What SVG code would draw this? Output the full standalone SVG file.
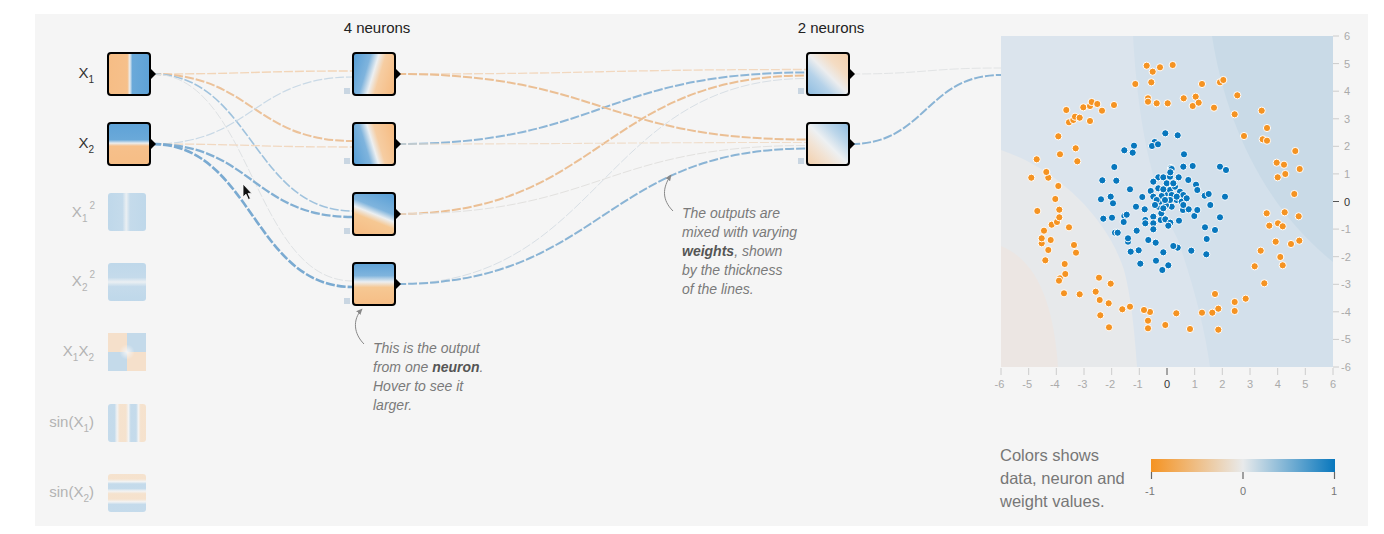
<svg xmlns="http://www.w3.org/2000/svg" width="1384" height="534" viewBox="0 0 1384 534">
  <style>
    .lbl { font-family: "Liberation Sans", Arial, sans-serif; font-size: 15px; fill: #333; }
    .faded { fill: #b3b3b3; }
    .sub { font-size: 10px; }
    .head { font-family: "Liberation Sans", Arial, sans-serif; font-size: 15px; fill: #222; text-anchor: middle; }
    .note { font-family: "Liberation Sans", Arial, sans-serif; font-size: 14px; font-style: italic; fill: #7a7a7a; }
    .legend { font-family: "Liberation Sans", Arial, sans-serif; font-size: 16.5px; fill: #777; }
    .tick { font-family: "Liberation Sans", Arial, sans-serif; font-size: 11px; fill: #aaa; }
    .tickc { text-anchor: middle; }
    .frame { stroke: #000; stroke-width: 2; }
    .bias { fill: #c9d6e2; }
    .tip { fill: #000; }
    .link { fill: none; stroke-dasharray: 9 2; }
    .arrow { fill: none; stroke: #888; stroke-width: 1; }
    .axis line { stroke: #ccc; stroke-width: 1; }
    .pt { stroke: #fff; stroke-width: 1; }
    .or circle { fill: #f59322; }
    .bl circle { fill: #0877bd; }
  </style>
  <defs>
    <linearGradient id="gX1" x1="0" y1="0" x2="1" y2="0">
      <stop offset="0" stop-color="#f6bd85"/>
      <stop offset="0.46" stop-color="#f6c08b"/>
      <stop offset="0.52" stop-color="#e9edf0"/>
      <stop offset="0.58" stop-color="#6aa9d9"/>
      <stop offset="1" stop-color="#5ea2d7"/>
    </linearGradient>
    <linearGradient id="gX2" x1="0" y1="0" x2="0" y2="1">
      <stop offset="0" stop-color="#5ea2d7"/>
      <stop offset="0.4" stop-color="#6aa9d9"/>
      <stop offset="0.48" stop-color="#e9edf0"/>
      <stop offset="0.55" stop-color="#f6c08b"/>
      <stop offset="1" stop-color="#f6bd85"/>
    </linearGradient>
    <linearGradient id="gX1sq" x1="0" y1="0" x2="1" y2="0">
      <stop offset="0" stop-color="#6eacd9"/>
      <stop offset="0.38" stop-color="#7cb3dc"/>
      <stop offset="0.48" stop-color="#dbe7f0"/>
      <stop offset="0.58" stop-color="#7cb3dc"/>
      <stop offset="1" stop-color="#6eacd9"/>
    </linearGradient>
    <linearGradient id="gX2sq" x1="0" y1="0" x2="0" y2="1">
      <stop offset="0" stop-color="#6eacd9"/>
      <stop offset="0.38" stop-color="#7cb3dc"/>
      <stop offset="0.5" stop-color="#dbe7f0"/>
      <stop offset="0.62" stop-color="#7cb3dc"/>
      <stop offset="1" stop-color="#6eacd9"/>
    </linearGradient>
    <linearGradient id="gSin1" x1="0" y1="0" x2="1" y2="0">
      <stop offset="0" stop-color="#7cb3dc"/>
      <stop offset="0.17" stop-color="#7cb3dc"/>
      <stop offset="0.24" stop-color="#eef0f1"/>
      <stop offset="0.31" stop-color="#f6c693"/>
      <stop offset="0.47" stop-color="#f6c693"/>
      <stop offset="0.54" stop-color="#eef0f1"/>
      <stop offset="0.6" stop-color="#7cb3dc"/>
      <stop offset="0.74" stop-color="#7cb3dc"/>
      <stop offset="0.8" stop-color="#eef0f1"/>
      <stop offset="0.86" stop-color="#f6c693"/>
      <stop offset="1" stop-color="#f6c693"/>
    </linearGradient>
    <linearGradient id="gSin2" x1="0" y1="0" x2="0" y2="1">
      <stop offset="0" stop-color="#f6c693"/>
      <stop offset="0.13" stop-color="#f6c693"/>
      <stop offset="0.2" stop-color="#eef0f1"/>
      <stop offset="0.26" stop-color="#7cb3dc"/>
      <stop offset="0.38" stop-color="#7cb3dc"/>
      <stop offset="0.45" stop-color="#eef0f1"/>
      <stop offset="0.52" stop-color="#f6c693"/>
      <stop offset="0.66" stop-color="#f6c693"/>
      <stop offset="0.73" stop-color="#eef0f1"/>
      <stop offset="0.8" stop-color="#7cb3dc"/>
      <stop offset="1" stop-color="#7cb3dc"/>
    </linearGradient>
    <radialGradient id="gX1X2c" cx="0.5" cy="0.5" r="0.2">
      <stop offset="0" stop-color="#f2f3f3" stop-opacity="1"/>
      <stop offset="1" stop-color="#f2f3f3" stop-opacity="0"/>
    </radialGradient>
    <linearGradient id="gN1" x1="0" y1="0.35" x2="1" y2="0.65">
      <stop offset="0" stop-color="#5ea2d7"/>
      <stop offset="0.3" stop-color="#7fb4dd"/>
      <stop offset="0.48" stop-color="#eceff1"/>
      <stop offset="0.64" stop-color="#f6cda2"/>
      <stop offset="1" stop-color="#f6bd85"/>
    </linearGradient>
    <linearGradient id="gN2" x1="0" y1="0.65" x2="1" y2="0.35">
      <stop offset="0" stop-color="#5ea2d7"/>
      <stop offset="0.3" stop-color="#7fb4dd"/>
      <stop offset="0.47" stop-color="#eceff1"/>
      <stop offset="0.62" stop-color="#f6cda2"/>
      <stop offset="1" stop-color="#f6bd85"/>
    </linearGradient>
    <linearGradient id="gN3" x1="0.3" y1="1" x2="0.7" y2="0">
      <stop offset="0" stop-color="#f6bd85"/>
      <stop offset="0.35" stop-color="#f6c893"/>
      <stop offset="0.5" stop-color="#eceff1"/>
      <stop offset="0.65" stop-color="#7fb4dd"/>
      <stop offset="1" stop-color="#5ea2d7"/>
    </linearGradient>
    <linearGradient id="gN4" x1="0" y1="0" x2="0" y2="1">
      <stop offset="0" stop-color="#5ea2d7"/>
      <stop offset="0.3" stop-color="#7fb4dd"/>
      <stop offset="0.45" stop-color="#eceff1"/>
      <stop offset="0.58" stop-color="#f6c893"/>
      <stop offset="1" stop-color="#f6bd85"/>
    </linearGradient>
    <linearGradient id="gL1" x1="0" y1="1" x2="1" y2="0">
      <stop offset="0" stop-color="#8dbce0"/>
      <stop offset="0.3" stop-color="#b5d2e9"/>
      <stop offset="0.5" stop-color="#ecedee"/>
      <stop offset="0.7" stop-color="#f4dcc3"/>
      <stop offset="1" stop-color="#f3cfab"/>
    </linearGradient>
    <linearGradient id="gL2" x1="0" y1="1" x2="1" y2="0">
      <stop offset="0" stop-color="#f3cfab"/>
      <stop offset="0.3" stop-color="#f2e2d2"/>
      <stop offset="0.5" stop-color="#edf0f2"/>
      <stop offset="0.72" stop-color="#bcd6ea"/>
      <stop offset="1" stop-color="#8dbce0"/>
    </linearGradient>
    <linearGradient id="gScale" x1="0" y1="0" x2="1" y2="0">
      <stop offset="0" stop-color="#f59322"/>
      <stop offset="0.5" stop-color="#e8eaeb"/>
      <stop offset="1" stop-color="#0877bd"/>
    </linearGradient>
    <clipPath id="plotClip">
      <rect x="1001" y="36" width="332" height="331"/>
    </clipPath>
    <marker id="head" viewBox="0 0 10 10" refX="8" refY="5" markerWidth="7" markerHeight="7" orient="auto">
      <path d="M0,1 L9,5 L0,9 Z" fill="#888"/>
    </marker>
  </defs>

  <!-- page and panel -->
  <rect x="0" y="0" width="1384" height="534" fill="#ffffff"/>
  <rect x="35" y="14" width="1333" height="512" fill="#f5f5f5"/>

  <!-- layer headings -->
  <text class="head" x="377" y="33">4 neurons</text>
  <text class="head" x="831" y="33">2 neurons</text>

  <!-- connectors -->
  <g id="links">
    <!-- inputs to hidden layer 1 -->
    <path class="link" d="M152,74 C252.5,74 252.5,71 353,71" stroke="#f2d5b8" stroke-width="1.4"/>
    <path class="link" d="M152,74 C252.5,74 252.5,141 353,141" stroke="#ecc29a" stroke-width="2"/>
    <path class="link" d="M152,74 C252.5,74 252.5,211 353,211" stroke="#9fc2dd" stroke-width="1.6"/>
    <path class="link" d="M152,74 C252.5,74 252.5,281 353,281" stroke="#dfe2e4" stroke-width="1"/>
    <path class="link" d="M152,144 C252.5,144 252.5,77 353,77" stroke="#c9d9e6" stroke-width="1.2"/>
    <path class="link" d="M152,144 C252.5,144 252.5,147 353,147" stroke="#f1d8c0" stroke-width="1.3"/>
    <path class="link" d="M152,144 C252.5,144 252.5,217 353,217" stroke="#82afd3" stroke-width="2.3"/>
    <path class="link" d="M152,144 C252.5,144 252.5,287 353,287" stroke="#7aaad1" stroke-width="2.6"/>
    <!-- hidden layer 1 to hidden layer 2 -->
    <path class="link" d="M397,74 C602,74 602,69.5 807,69.5" stroke="#f2d8bf" stroke-width="1.3"/>
    <path class="link" d="M397,144 C602,144 602,72.5 807,72.5" stroke="#8db6d7" stroke-width="2"/>
    <path class="link" d="M397,214 C602,214 602,75.5 807,75.5" stroke="#ebbf94" stroke-width="2"/>
    <path class="link" d="M397,284 C602,284 602,78.5 807,78.5" stroke="#d8dfe5" stroke-width="1"/>
    <path class="link" d="M397,74 C602,74 602,139.5 807,139.5" stroke="#ebbf94" stroke-width="2"/>
    <path class="link" d="M397,144 C602,144 602,142.5 807,142.5" stroke="#f0ddca" stroke-width="1.1"/>
    <path class="link" d="M397,214 C602,214 602,145.5 807,145.5" stroke="#e2e1df" stroke-width="1"/>
    <path class="link" d="M397,284 C602,284 602,148.5 807,148.5" stroke="#8ab4d5" stroke-width="2"/>
    <!-- hidden layer 2 to output -->
    <path class="link" d="M851,74 C926,74 926,68 1001,68" stroke="#e2e4e5" stroke-width="1"/>
    <path class="link" d="M851,144 C926,144 926,75 1001,75" stroke="#8ab4d5" stroke-width="2"/>
  </g>

  <!-- input features -->
  <g id="in-x1">
    <text class="lbl" x="94" y="78" text-anchor="end">X<tspan class="sub" dy="5">1</tspan></text>
    <rect class="frame" x="108" y="53" width="42" height="42" rx="3" fill="url(#gX1)"/>
    <polygon class="tip" points="150,68 156,74 150,80"/>
  </g>
  <g id="in-x2">
    <text class="lbl" x="94" y="148" text-anchor="end">X<tspan class="sub" dy="5">2</tspan></text>
    <rect class="frame" x="108" y="123" width="42" height="42" rx="3" fill="url(#gX2)"/>
    <polygon class="tip" points="150,138 156,144 150,150"/>
  </g>
  <g id="in-x1sq">
    <text class="lbl faded" x="95" y="217" text-anchor="end">X<tspan class="sub" dy="5">1</tspan><tspan class="sub" dx="2" dy="-13">2</tspan></text>
    <rect x="108" y="193" width="38" height="38" rx="3" fill="url(#gX1sq)" opacity="0.4"/>
  </g>
  <g id="in-x2sq">
    <text class="lbl faded" x="95" y="286" text-anchor="end">X<tspan class="sub" dy="5">2</tspan><tspan class="sub" dx="2" dy="-13">2</tspan></text>
    <rect x="108" y="263" width="38" height="38" rx="3" fill="url(#gX2sq)" opacity="0.4"/>
  </g>
  <g id="in-x1x2">
    <text class="lbl faded" x="94" y="356" text-anchor="end">X<tspan class="sub" dy="5">1</tspan><tspan dy="-5">X</tspan><tspan class="sub" dy="5">2</tspan></text>
    <g opacity="0.4">
      <rect x="108" y="333" width="19" height="19" fill="#f6c38f"/>
      <rect x="127" y="333" width="19" height="19" fill="#7cb3dc"/>
      <rect x="108" y="352" width="19" height="19" fill="#7cb3dc"/>
      <rect x="127" y="352" width="19" height="19" fill="#f6c38f"/>
      <rect x="108" y="333" width="38" height="38" fill="url(#gX1X2c)"/>
    </g>
  </g>
  <g id="in-sinx1">
    <text class="lbl faded" x="94" y="427" text-anchor="end">sin(X<tspan class="sub" dy="5">1</tspan><tspan dy="-5">)</tspan></text>
    <rect x="108" y="404" width="38" height="38" rx="3" fill="url(#gSin1)" opacity="0.4"/>
  </g>
  <g id="in-sinx2">
    <text class="lbl faded" x="94" y="497" text-anchor="end">sin(X<tspan class="sub" dy="5">2</tspan><tspan dy="-5">)</tspan></text>
    <rect x="108" y="474" width="38" height="38" rx="3" fill="url(#gSin2)" opacity="0.4"/>
  </g>

  <!-- hidden layer 1 -->
  <g id="h1-n1">
    <rect class="bias" x="344" y="88" width="6" height="6"/>
    <rect class="frame" x="353" y="53" width="42" height="42" rx="3" fill="url(#gN1)"/>
    <polygon class="tip" points="395,68 401,74 395,80"/>
  </g>
  <g id="h1-n2">
    <rect class="bias" x="344" y="158" width="6" height="6"/>
    <rect class="frame" x="353" y="123" width="42" height="42" rx="3" fill="url(#gN2)"/>
    <polygon class="tip" points="395,138 401,144 395,150"/>
  </g>
  <g id="h1-n3">
    <rect class="bias" x="344" y="228" width="6" height="6"/>
    <rect class="frame" x="353" y="193" width="42" height="42" rx="3" fill="url(#gN3)"/>
    <polygon class="tip" points="395,208 401,214 395,220"/>
  </g>
  <g id="h1-n4">
    <rect class="bias" x="344" y="298" width="6" height="6"/>
    <rect class="frame" x="353" y="263" width="42" height="42" rx="3" fill="url(#gN4)"/>
    <polygon class="tip" points="395,278 401,284 395,290"/>
  </g>

  <!-- hidden layer 2 -->
  <g id="h2-n1">
    <rect class="bias" x="798" y="88" width="6" height="6"/>
    <rect class="frame" x="807" y="53" width="42" height="42" rx="3" fill="url(#gL1)"/>
    <polygon class="tip" points="849,68 855,74 849,80"/>
  </g>
  <g id="h2-n2">
    <rect class="bias" x="798" y="158" width="6" height="6"/>
    <rect class="frame" x="807" y="123" width="42" height="42" rx="3" fill="url(#gL2)"/>
    <polygon class="tip" points="849,138 855,144 849,150"/>
  </g>

  <!-- pointer -->
  <g id="pointer">
    <path d="M243,184 L243,197 L246,194.2 L248.4,199.5 L250.4,198.6 L248,193.4 L251.8,193.4 Z" fill="#111" stroke="#fff" stroke-width="0.8"/>
  </g>

  <!-- annotations -->
  <g id="note-neuron">
    <path class="arrow" d="M364,344 C354,334 352,320 362,309" marker-end="url(#head)"/>
    <text class="note" x="373" y="353">This is the output</text>
    <text class="note" x="373" y="372">from one <tspan font-weight="bold" fill="#555">neuron</tspan>.</text>
    <text class="note" x="373" y="391">Hover to see it</text>
    <text class="note" x="373" y="410">larger.</text>
  </g>
  <g id="note-weights">
    <path class="arrow" d="M673,211 C662,200 662,188 671,175" marker-end="url(#head)"/>
    <text class="note" x="682" y="218">The outputs are</text>
    <text class="note" x="682" y="237">mixed with varying</text>
    <text class="note" x="682" y="256"><tspan font-weight="bold" fill="#555">weights</tspan>, shown</text>
    <text class="note" x="682" y="275">by the thickness</text>
    <text class="note" x="682" y="294">of the lines.</text>
  </g>

  <!-- output heatmap -->
  <g id="output">
    <g clip-path="url(#plotClip)">
      <rect x="1001" y="36" width="332" height="331" fill="#d3e0eb"/>
      <path d="M1212,36 C1225,120 1262,205 1333,262 L1333,36 Z" fill="#c9dae7"/>
      <path d="M1001,36 L1133,36 C1138,120 1150,185 1178,240 C1195,290 1205,330 1210,367 L1001,367 Z" fill="#dbe4ed"/>
      <path d="M1001,150 C1060,170 1108,220 1124,270 C1132,300 1135,340 1137,367 L1001,367 Z" fill="#e7e9eb"/>
      <path d="M1001,246 C1040,262 1054,310 1058,367 L1001,367 Z" fill="#ece6e3"/>
    </g>
    <g class="axis">
      <line x1="1333" y1="36" x2="1339" y2="36"/>
      <line x1="1333" y1="63.6" x2="1339" y2="63.6"/>
      <line x1="1333" y1="91.2" x2="1339" y2="91.2"/>
      <line x1="1333" y1="118.8" x2="1339" y2="118.8"/>
      <line x1="1333" y1="146.3" x2="1339" y2="146.3"/>
      <line x1="1333" y1="173.9" x2="1339" y2="173.9"/>
      <line x1="1333" y1="201.5" x2="1339" y2="201.5" style="stroke:#555"/>
      <line x1="1333" y1="229.1" x2="1339" y2="229.1"/>
      <line x1="1333" y1="256.7" x2="1339" y2="256.7"/>
      <line x1="1333" y1="284.3" x2="1339" y2="284.3"/>
      <line x1="1333" y1="311.8" x2="1339" y2="311.8"/>
      <line x1="1333" y1="339.4" x2="1339" y2="339.4"/>
      <line x1="1333" y1="367" x2="1339" y2="367"/>
      <line x1="1001" y1="368" x2="1001" y2="375"/>
      <line x1="1028.7" y1="368" x2="1028.7" y2="375"/>
      <line x1="1056.3" y1="368" x2="1056.3" y2="375"/>
      <line x1="1084" y1="368" x2="1084" y2="375"/>
      <line x1="1111.7" y1="368" x2="1111.7" y2="375"/>
      <line x1="1139.3" y1="368" x2="1139.3" y2="375"/>
      <line x1="1167" y1="368" x2="1167" y2="375" style="stroke:#555"/>
      <line x1="1194.7" y1="368" x2="1194.7" y2="375"/>
      <line x1="1222.3" y1="368" x2="1222.3" y2="375"/>
      <line x1="1250" y1="368" x2="1250" y2="375"/>
      <line x1="1277.7" y1="368" x2="1277.7" y2="375"/>
      <line x1="1305.3" y1="368" x2="1305.3" y2="375"/>
      <line x1="1333" y1="368" x2="1333" y2="375"/>
    </g>
    <g class="tick">
      <text x="1344" y="40">6</text>
      <text x="1344" y="67.6">5</text>
      <text x="1344" y="95.2">4</text>
      <text x="1344" y="122.8">3</text>
      <text x="1344" y="150.3">2</text>
      <text x="1344" y="177.9">1</text>
      <text x="1344" y="205.5" style="fill:#333">0</text>
      <text x="1341" y="233.1">-1</text>
      <text x="1341" y="260.7">-2</text>
      <text x="1341" y="288.3">-3</text>
      <text x="1341" y="315.8">-4</text>
      <text x="1341" y="343.4">-5</text>
      <text x="1341" y="371">-6</text>
    </g>
    <g class="tick tickc">
      <text x="999.5" y="388">-6</text>
      <text x="1027.2" y="388">-5</text>
      <text x="1054.8" y="388">-4</text>
      <text x="1082.5" y="388">-3</text>
      <text x="1110.2" y="388">-2</text>
      <text x="1137.8" y="388">-1</text>
      <text x="1167" y="388" style="fill:#333">0</text>
      <text x="1194.7" y="388">1</text>
      <text x="1222.3" y="388">2</text>
      <text x="1250" y="388">3</text>
      <text x="1277.7" y="388">4</text>
      <text x="1305.3" y="388">5</text>
      <text x="1333" y="388">6</text>
    </g>
    <!-- class -1 samples -->
    <g class="or">
      <circle class="pt" r="3.6" cx="1146.7" cy="65.7"/><circle class="pt" r="3.6" cx="1152.7" cy="71.7"/>
      <circle class="pt" r="3.6" cx="1160" cy="67.3"/><circle class="pt" r="3.6" cx="1172.7" cy="65"/>
      <circle class="pt" r="3.6" cx="1135.3" cy="84"/><circle class="pt" r="3.6" cx="1151.3" cy="82.3"/>
      <circle class="pt" r="3.6" cx="1148" cy="98.3"/><circle class="pt" r="3.6" cx="1148" cy="101.7"/>
      <circle class="pt" r="3.6" cx="1156.7" cy="103.3"/><circle class="pt" r="3.6" cx="1167.7" cy="103.3"/>
      <circle class="pt" r="3.6" cx="1183.7" cy="98.3"/><circle class="pt" r="3.6" cx="1195.7" cy="96.7"/>
      <circle class="pt" r="3.6" cx="1192.7" cy="106"/><circle class="pt" r="3.6" cx="1198.7" cy="102.7"/>
      <circle class="pt" r="3.6" cx="1202" cy="84"/><circle class="pt" r="3.6" cx="1220" cy="82.3"/>
      <circle class="pt" r="3.6" cx="1223.3" cy="80"/><circle class="pt" r="3.6" cx="1237.3" cy="95.3"/>
      <circle class="pt" r="3.6" cx="1214" cy="107.7"/><circle class="pt" r="3.6" cx="1234.7" cy="114.3"/>
      <circle class="pt" r="3.6" cx="1244" cy="136"/><circle class="pt" r="3.6" cx="1261.7" cy="110.7"/>
      <circle class="pt" r="3.6" cx="1267" cy="128"/><circle class="pt" r="3.6" cx="1262.7" cy="139.3"/>
      <circle class="pt" r="3.6" cx="1267" cy="140.7"/><circle class="pt" r="3.6" cx="1295.3" cy="151"/>
      <circle class="pt" r="3.6" cx="1276.7" cy="162.7"/><circle class="pt" r="3.6" cx="1284" cy="164.7"/>
      <circle class="pt" r="3.6" cx="1299.7" cy="169"/><circle class="pt" r="3.6" cx="1277.7" cy="177.3"/>
      <circle class="pt" r="3.6" cx="1285.3" cy="174"/><circle class="pt" r="3.6" cx="1294.3" cy="194"/>
      <circle class="pt" r="3.6" cx="1266.7" cy="213.3"/><circle class="pt" r="3.6" cx="1284.7" cy="212.3"/>
      <circle class="pt" r="3.6" cx="1298.7" cy="216.3"/><circle class="pt" r="3.6" cx="1269.3" cy="225.7"/>
      <circle class="pt" r="3.6" cx="1278" cy="223.3"/><circle class="pt" r="3.6" cx="1282.7" cy="226.3"/>
      <circle class="pt" r="3.6" cx="1275.7" cy="241.7"/><circle class="pt" r="3.6" cx="1291" cy="244"/>
      <circle class="pt" r="3.6" cx="1299.3" cy="240.7"/><circle class="pt" r="3.6" cx="1260.7" cy="250.7"/>
      <circle class="pt" r="3.6" cx="1280.3" cy="257"/><circle class="pt" r="3.6" cx="1282.7" cy="265.3"/>
      <circle class="pt" r="3.6" cx="1254.7" cy="266.3"/><circle class="pt" r="3.6" cx="1264.3" cy="283.3"/>
      <circle class="pt" r="3.6" cx="1245.7" cy="298.7"/><circle class="pt" r="3.6" cx="1234.7" cy="302"/>
      <circle class="pt" r="3.6" cx="1234.7" cy="311"/><circle class="pt" r="3.6" cx="1218.3" cy="308.7"/>
      <circle class="pt" r="3.6" cx="1212.3" cy="312.7"/><circle class="pt" r="3.6" cx="1215" cy="294"/>
      <circle class="pt" r="3.6" cx="1202" cy="312.7"/><circle class="pt" r="3.6" cx="1190" cy="329"/>
      <circle class="pt" r="3.6" cx="1218.3" cy="329.7"/><circle class="pt" r="3.6" cx="1176.3" cy="313.3"/>
      <circle class="pt" r="3.6" cx="1165.3" cy="325"/><circle class="pt" r="3.6" cx="1150" cy="312"/>
      <circle class="pt" r="3.6" cx="1144" cy="310"/><circle class="pt" r="3.6" cx="1148" cy="320.7"/>
      <circle class="pt" r="3.6" cx="1148" cy="328.3"/><circle class="pt" r="3.6" cx="1130" cy="306.7"/>
      <circle class="pt" r="3.6" cx="1122.3" cy="309.3"/><circle class="pt" r="3.6" cx="1109" cy="327.3"/>
      <circle class="pt" r="3.6" cx="1108.7" cy="303.3"/><circle class="pt" r="3.6" cx="1100.3" cy="315.3"/>
      <circle class="pt" r="3.6" cx="1099.7" cy="300"/><circle class="pt" r="3.6" cx="1095.7" cy="291.7"/>
      <circle class="pt" r="3.6" cx="1099" cy="277.7"/><circle class="pt" r="3.6" cx="1110.7" cy="283.7"/>
      <circle class="pt" r="3.6" cx="1079.7" cy="294.3"/><circle class="pt" r="3.6" cx="1064" cy="293.3"/>
      <circle class="pt" r="3.6" cx="1060" cy="278.3"/><circle class="pt" r="3.6" cx="1059" cy="280.7"/>
      <circle class="pt" r="3.6" cx="1065.3" cy="274"/><circle class="pt" r="3.6" cx="1064.7" cy="264"/>
      <circle class="pt" r="3.6" cx="1076" cy="252.7"/><circle class="pt" r="3.6" cx="1074" cy="245"/>
      <circle class="pt" r="3.6" cx="1045.3" cy="260.3"/><circle class="pt" r="3.6" cx="1048.3" cy="250"/>
      <circle class="pt" r="3.6" cx="1050.7" cy="240"/><circle class="pt" r="3.6" cx="1041.7" cy="243.3"/>
      <circle class="pt" r="3.6" cx="1041.7" cy="238.3"/><circle class="pt" r="3.6" cx="1044" cy="230.7"/>
      <circle class="pt" r="3.6" cx="1051.7" cy="224.7"/><circle class="pt" r="3.6" cx="1057" cy="222"/>
      <circle class="pt" r="3.6" cx="1059.3" cy="217.3"/><circle class="pt" r="3.6" cx="1069" cy="227.3"/>
      <circle class="pt" r="3.6" cx="1059.3" cy="209.7"/><circle class="pt" r="3.6" cx="1037.3" cy="211"/>
      <circle class="pt" r="3.6" cx="1055.3" cy="199"/><circle class="pt" r="3.6" cx="1058.3" cy="186"/>
      <circle class="pt" r="3.6" cx="1048.3" cy="177.7"/><circle class="pt" r="3.6" cx="1046.3" cy="172"/>
      <circle class="pt" r="3.6" cx="1031.3" cy="177.7"/><circle class="pt" r="3.6" cx="1036.7" cy="159.3"/>
      <circle class="pt" r="3.6" cx="1060" cy="154.3"/><circle class="pt" r="3.6" cx="1077.3" cy="161.3"/>
      <circle class="pt" r="3.6" cx="1075.7" cy="148.3"/><circle class="pt" r="3.6" cx="1058.3" cy="136.3"/>
      <circle class="pt" r="3.6" cx="1066.3" cy="110"/><circle class="pt" r="3.6" cx="1069" cy="122.3"/>
      <circle class="pt" r="3.6" cx="1073.3" cy="120"/><circle class="pt" r="3.6" cx="1075" cy="116.7"/>
      <circle class="pt" r="3.6" cx="1079.7" cy="117.7"/><circle class="pt" r="3.6" cx="1083.3" cy="107.3"/>
      <circle class="pt" r="3.6" cx="1090" cy="106"/><circle class="pt" r="3.6" cx="1091.7" cy="102"/>
      <circle class="pt" r="3.6" cx="1097.3" cy="104"/><circle class="pt" r="3.6" cx="1102" cy="110.7"/>
      <circle class="pt" r="3.6" cx="1090" cy="121"/><circle class="pt" r="3.6" cx="1114" cy="105"/>
    </g>
    <!-- class +1 samples -->
    <g class="bl">
      <circle class="pt" r="3.6" cx="1165.3" cy="133.3"/><circle class="pt" r="3.6" cx="1177.7" cy="135.3"/>
      <circle class="pt" r="3.6" cx="1154.7" cy="142"/><circle class="pt" r="3.6" cx="1152" cy="146"/>
      <circle class="pt" r="3.6" cx="1158" cy="144.3"/><circle class="pt" r="3.6" cx="1124.3" cy="150.3"/>
      <circle class="pt" r="3.6" cx="1134" cy="145.7"/><circle class="pt" r="3.6" cx="1132.7" cy="152.7"/>
      <circle class="pt" r="3.6" cx="1184" cy="154.3"/><circle class="pt" r="3.6" cx="1114.3" cy="167"/>
      <circle class="pt" r="3.6" cx="1171" cy="168"/><circle class="pt" r="3.6" cx="1183.3" cy="166.7"/>
      <circle class="pt" r="3.6" cx="1192.7" cy="166"/><circle class="pt" r="3.6" cx="1220" cy="166.7"/>
      <circle class="pt" r="3.6" cx="1226" cy="170"/><circle class="pt" r="3.6" cx="1102.3" cy="180.3"/>
      <circle class="pt" r="3.6" cx="1116.3" cy="180.7"/><circle class="pt" r="3.6" cx="1158.3" cy="177.3"/>
      <circle class="pt" r="3.6" cx="1153.3" cy="181.7"/><circle class="pt" r="3.6" cx="1163.3" cy="177.3"/>
      <circle class="pt" r="3.6" cx="1170" cy="176.7"/><circle class="pt" r="3.6" cx="1178.7" cy="177.3"/>
      <circle class="pt" r="3.6" cx="1188.3" cy="180"/><circle class="pt" r="3.6" cx="1196" cy="184.7"/>
      <circle class="pt" r="3.6" cx="1197.3" cy="190"/><circle class="pt" r="3.6" cx="1171.7" cy="169"/>
      <circle class="pt" r="3.6" cx="1170.3" cy="172.3"/><circle class="pt" r="3.6" cx="1130" cy="189.3"/>
      <circle class="pt" r="3.6" cx="1150.7" cy="191"/><circle class="pt" r="3.6" cx="1142.3" cy="197"/>
      <circle class="pt" r="3.6" cx="1101" cy="199.3"/><circle class="pt" r="3.6" cx="1110.7" cy="196.7"/>
      <circle class="pt" r="3.6" cx="1113" cy="203.3"/><circle class="pt" r="3.6" cx="1103.3" cy="218.7"/>
      <circle class="pt" r="3.6" cx="1112" cy="217.7"/><circle class="pt" r="3.6" cx="1124.3" cy="216"/>
      <circle class="pt" r="3.6" cx="1126.7" cy="214.7"/><circle class="pt" r="3.6" cx="1123.7" cy="222"/>
      <circle class="pt" r="3.6" cx="1136" cy="206.7"/><circle class="pt" r="3.6" cx="1144.7" cy="209.3"/>
      <circle class="pt" r="3.6" cx="1145.3" cy="220"/><circle class="pt" r="3.6" cx="1145.3" cy="223.3"/>
      <circle class="pt" r="3.6" cx="1153.3" cy="216.7"/><circle class="pt" r="3.6" cx="1153.3" cy="223.3"/>
      <circle class="pt" r="3.6" cx="1160.7" cy="220"/><circle class="pt" r="3.6" cx="1158.3" cy="206.7"/>
      <circle class="pt" r="3.6" cx="1161.3" cy="213.3"/><circle class="pt" r="3.6" cx="1165.3" cy="219.3"/>
      <circle class="pt" r="3.6" cx="1170.3" cy="222.7"/><circle class="pt" r="3.6" cx="1168.3" cy="225.7"/>
      <circle class="pt" r="3.6" cx="1179" cy="220.7"/><circle class="pt" r="3.6" cx="1183" cy="210"/>
      <circle class="pt" r="3.6" cx="1188.7" cy="209.3"/><circle class="pt" r="3.6" cx="1194.3" cy="216"/>
      <circle class="pt" r="3.6" cx="1197.3" cy="210"/><circle class="pt" r="3.6" cx="1204.7" cy="195.7"/>
      <circle class="pt" r="3.6" cx="1208.7" cy="194"/><circle class="pt" r="3.6" cx="1210.3" cy="205"/>
      <circle class="pt" r="3.6" cx="1225" cy="196.7"/><circle class="pt" r="3.6" cx="1220" cy="217.3"/>
      <circle class="pt" r="3.6" cx="1205" cy="227.3"/><circle class="pt" r="3.6" cx="1215" cy="230"/>
      <circle class="pt" r="3.6" cx="1206.7" cy="239"/><circle class="pt" r="3.6" cx="1206.3" cy="254.3"/>
      <circle class="pt" r="3.6" cx="1191.3" cy="250.7"/><circle class="pt" r="3.6" cx="1177.7" cy="247.7"/>
      <circle class="pt" r="3.6" cx="1173.3" cy="246"/><circle class="pt" r="3.6" cx="1163.3" cy="252.3"/>
      <circle class="pt" r="3.6" cx="1156" cy="260.7"/><circle class="pt" r="3.6" cx="1140.3" cy="263.7"/>
      <circle class="pt" r="3.6" cx="1162.3" cy="270"/><circle class="pt" r="3.6" cx="1168.3" cy="265.3"/>
      <circle class="pt" r="3.6" cx="1148.3" cy="240"/><circle class="pt" r="3.6" cx="1155.7" cy="242.7"/>
      <circle class="pt" r="3.6" cx="1153.3" cy="229.3"/><circle class="pt" r="3.6" cx="1138.7" cy="250.3"/>
      <circle class="pt" r="3.6" cx="1130.7" cy="251.7"/><circle class="pt" r="3.6" cx="1128" cy="241.7"/>
      <circle class="pt" r="3.6" cx="1128" cy="238.3"/><circle class="pt" r="3.6" cx="1136.7" cy="230.7"/>
      <circle class="pt" r="3.6" cx="1115" cy="232.7"/><circle class="pt" r="3.6" cx="1117.7" cy="232.7"/>
      <circle class="pt" r="3.6" cx="1153.3" cy="196.7"/><circle class="pt" r="3.6" cx="1160" cy="201.7"/>
      <circle class="pt" r="3.6" cx="1166.7" cy="193.3"/><circle class="pt" r="3.6" cx="1170" cy="190"/>
      <circle class="pt" r="3.6" cx="1175" cy="186.7"/><circle class="pt" r="3.6" cx="1180" cy="191.7"/>
      <circle class="pt" r="3.6" cx="1183.3" cy="195"/><circle class="pt" r="3.6" cx="1176.7" cy="200"/>
      <circle class="pt" r="3.6" cx="1171.7" cy="206.7"/><circle class="pt" r="3.6" cx="1166" cy="205"/>
      <circle class="pt" r="3.6" cx="1161.7" cy="196"/><circle class="pt" r="3.6" cx="1156.7" cy="200"/>
      <circle class="pt" r="3.6" cx="1155" cy="205"/><circle class="pt" r="3.6" cx="1163.3" cy="208.3"/>
      <circle class="pt" r="3.6" cx="1171.7" cy="195"/><circle class="pt" r="3.6" cx="1176.7" cy="196.7"/>
      <circle class="pt" r="3.6" cx="1181.7" cy="201.7"/><circle class="pt" r="3.6" cx="1186.7" cy="198.3"/>
      <circle class="pt" r="3.6" cx="1158.3" cy="188.3"/><circle class="pt" r="3.6" cx="1166.7" cy="183.3"/>
      <circle class="pt" r="3.6" cx="1173.3" cy="183.3"/><circle class="pt" r="3.6" cx="1163.3" cy="189.3"/>
      <circle class="pt" r="3.6" cx="1170" cy="200"/><circle class="pt" r="3.6" cx="1165" cy="200"/>
      <circle class="pt" r="3.6" cx="1183.3" cy="205"/>
    </g>
  </g>

  <!-- colour legend -->
  <g id="legend">
    <text class="legend" x="1000" y="461">Colors shows</text>
    <text class="legend" x="1000" y="484">data, neuron and</text>
    <text class="legend" x="1000" y="507">weight values.</text>
    <rect x="1151" y="459" width="184" height="13" fill="url(#gScale)"/>
    <g stroke="#666" stroke-width="1.2">
      <line x1="1151.5" y1="472" x2="1151.5" y2="479"/>
      <line x1="1243" y1="472" x2="1243" y2="479"/>
      <line x1="1334.5" y1="472" x2="1334.5" y2="479"/>
    </g>
    <g class="tick tickc" style="fill:#777">
      <text x="1150" y="495">-1</text>
      <text x="1243" y="495">0</text>
      <text x="1334" y="495">1</text>
    </g>
  </g>
</svg>
